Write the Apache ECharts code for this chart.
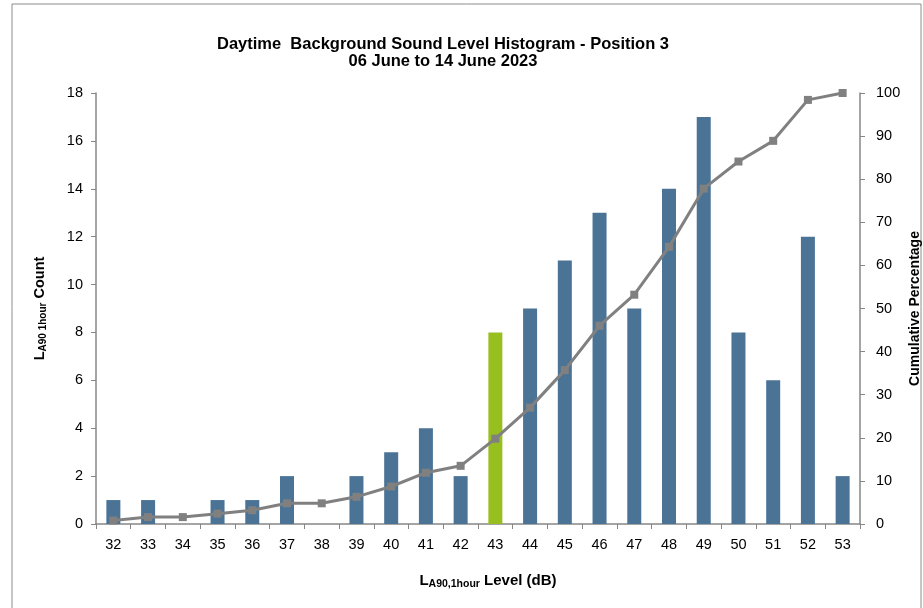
<!DOCTYPE html>
<html><head><meta charset="utf-8">
<script src="https://cdn.jsdelivr.net/npm/echarts@6/dist/echarts.min.js"></script>
<style>html,body{margin:0;padding:0;background:#fff}#c{width:923px;height:608px}</style>
</head><body><div id="c"></div>
<script>
const categories = ['32','33','34','35','36','37','38','39','40','41','42','43','44','45','46','47','48','49','50','51','52','53'];
const counts = [1,1,0,1,1,2,0,2,3,4,2,8,9,11,13,9,14,17,8,6,12,2];
const cumulative = [0.8,1.6,1.6,2.4,3.2,4.8,4.8,6.3,8.7,11.9,13.5,19.8,27.0,35.7,46.0,53.2,64.3,77.8,84.1,88.9,98.4,100];
const highlightCategory = '43';
const leftTicks = [0,2,4,6,8,10,12,14,16,18];
const rightTicks = [0,10,20,30,40,50,60,70,80,90,100];

const font = 'Liberation Sans, Arial, sans-serif';
const chart = echarts.init(document.getElementById('c'));
const axisGray = '#868686';
chart.setOption({
  animation:false,
  backgroundColor:'#fff',
  graphic:[{type:'rect',shape:{x:12,y:4,width:909,height:620},style:{fill:'none',stroke:'#8c8c8c',lineWidth:1},silent:true}],
  title:{
    text:'Daytime  Background Sound Level Histogram - Position 3\n06 June to 14 June 2023',
    left:438, top:31, textAlign:'center',
    textStyle:{fontFamily:font,fontSize:16.5,fontWeight:'bold',color:'#000',lineHeight:17}
  },
  grid:{left:96,right:63,top:93,bottom:84,outerBoundsMode:'none',containLabel:false},
  xAxis:{
    type:'category', data:categories, boundaryGap:true,
    axisLine:{lineStyle:{color:axisGray,width:1.5}},
    axisTick:{show:true,alignWithLabel:false,length:5,lineStyle:{color:axisGray}},
    axisLabel:{fontFamily:font,fontSize:14.5,color:'#000',margin:13},
    name:'{b|L}{s|A90,1hour}{b| Level (dB)}', nameLocation:'middle', nameGap:48, nameMoveOverlap:false,
    nameTextStyle:{padding:[0,0,0,20],rich:{b:{fontFamily:font,fontSize:15,fontWeight:'bold',color:'#000'},s:{fontFamily:font,fontSize:10.5,fontWeight:'bold',color:'#000',verticalAlign:'bottom',padding:[7,0,0,0]}}}
  },
  yAxis:[{
    type:'value', min:0, max:18, interval:2,
    axisLine:{show:true,lineStyle:{color:axisGray,width:1.5}},
    axisTick:{show:true,inside:false,length:5,lineStyle:{color:axisGray}},
    splitLine:{show:false},
    axisLabel:{fontFamily:font,fontSize:14.5,color:'#000',margin:13},
    name:'{b|L}{s|A90 1hour}{b| Count}', nameLocation:'middle', nameGap:48, nameRotate:90, nameMoveOverlap:false,
    nameTextStyle:{rich:{b:{fontFamily:font,fontSize:14.5,fontWeight:'bold',color:'#000'},s:{fontFamily:font,fontSize:10,fontWeight:'bold',color:'#000',padding:[7,0,0,0]}}}
  },{
    type:'value', min:0, max:100, interval:10, position:'right',
    axisLine:{show:true,lineStyle:{color:axisGray,width:1.5}},
    axisTick:{show:true,inside:false,length:5,lineStyle:{color:axisGray}},
    splitLine:{show:false},
    axisLabel:{fontFamily:font,fontSize:14.5,color:'#000',margin:16},
    name:'Cumulative Percentage', nameLocation:'middle', nameGap:48, nameRotate:90, nameMoveOverlap:false,
    nameTextStyle:{fontFamily:font,fontSize:14,fontWeight:'bold',color:'#000'}
  }],
  series:[{
    type:'bar', yAxisIndex:0, barWidth:14,
    data:counts.map((v,i)=>({value:v,itemStyle:{color:categories[i]===highlightCategory?'#97bf1f':'#4a7395'}}))
  },{
    type:'line', yAxisIndex:1, data:cumulative,
    symbol:'rect', symbolSize:8,
    lineStyle:{color:'#808080',width:3},
    itemStyle:{color:'#808080'}
  }]
});
</script></body></html>
